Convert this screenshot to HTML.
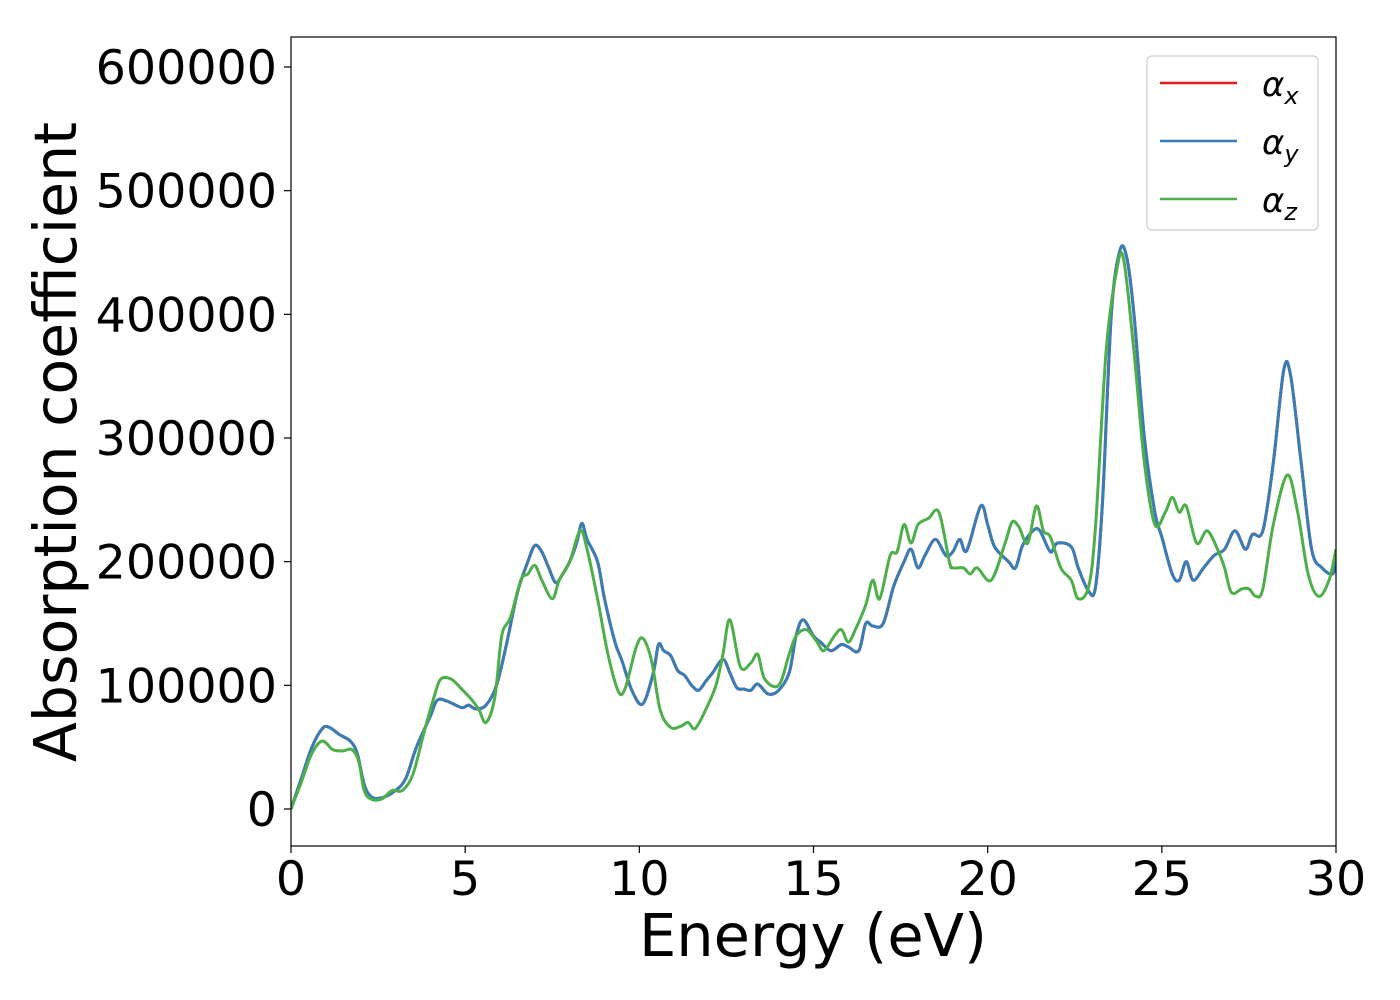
<!DOCTYPE html>
<html><head><meta charset="utf-8"><style>
html,body{margin:0;padding:0;background:#fff;}
svg{display:block;font-family:"DejaVu Sans","Liberation Sans",sans-serif;}
</style></head><body>
<svg id="chart" width="1400" height="1000" viewBox="0 0 1400 1000" xmlns="http://www.w3.org/2000/svg">
<defs><clipPath id="clip"><rect x="291" y="37" width="1045" height="809"/></clipPath></defs>
<rect x="0" y="0" width="1400" height="1000" fill="#fff"/>
<g id="series" clip-path="url(#clip)"></g>
<rect x="291" y="37" width="1045" height="809" fill="none" stroke="#000" stroke-width="1.2"/>
<g id="xticks"></g>
<g id="yticks"></g>
<text x="813" y="956" font-size="59" text-anchor="middle">Energy (eV)</text>
<text transform="translate(76,442) rotate(-90)" font-size="58.5" text-anchor="middle">Absorption coefficient</text>
<g>
<rect x="1147" y="56" width="171" height="174" rx="5" fill="#fff" stroke="#ccc" stroke-width="1.2"/>
<g><line x1="1160" y1="83" x2="1237" y2="83" stroke="#e41a1c" stroke-width="2.5"/><text x="1262" y="96" font-size="34" font-style="italic">α<tspan font-size="24" dy="8">x</tspan></text></g>
<g><line x1="1160" y1="141" x2="1237" y2="141" stroke="#377eb8" stroke-width="2.5"/><text x="1262" y="154" font-size="34" font-style="italic">α<tspan font-size="24" dy="8">y</tspan></text></g>
<g><line x1="1160" y1="199" x2="1237" y2="199" stroke="#4daf4a" stroke-width="2.5"/><text x="1262" y="212" font-size="34" font-style="italic">α<tspan font-size="24" dy="8">z</tspan></text></g>
</g>
</svg>
<script>
const xTicks=[0,5,10,15,20,25,30];
const yTicks=[0,100000,200000,300000,400000,500000,600000];
const energyXY=[0,0.3,0.6,0.9,1.1,1.4,1.7,1.9,2.1,2.3,2.6,3.0,3.3,3.6,4.0,4.2,4.5,4.9,5.1,5.3,5.6,5.9,6.2,6.5,6.8,7.0,7.2,7.4,7.6,7.8,8.0,8.2,8.35,8.5,8.8,9.0,9.3,9.5,9.8,10.1,10.4,10.55,10.7,10.9,11.1,11.3,11.5,11.7,11.9,12.1,12.4,12.6,12.8,13.0,13.2,13.4,13.7,14.0,14.3,14.5,14.7,15.0,15.2,15.5,15.8,16.0,16.3,16.5,16.7,17.0,17.3,17.6,17.8,18.0,18.2,18.5,18.8,19.0,19.2,19.4,19.8,20.0,20.2,20.6,20.8,21.0,21.3,21.5,21.8,22.0,22.4,22.6,22.9,23.1,23.3,23.55,23.8,24.0,24.2,24.5,24.8,25.0,25.3,25.5,25.7,25.9,26.2,26.5,26.8,27.1,27.4,27.6,27.9,28.2,28.5,28.7,29.0,29.3,29.6,29.9,30];
const alphaX=[0,25000,50000,65000,66000,60000,55000,45000,20000,10000,9000,15000,25000,50000,75000,88000,87000,82000,84000,81000,84000,100000,135000,175000,200000,213000,208000,195000,183000,190000,200000,215000,231000,218000,200000,170000,135000,120000,95000,85000,110000,133000,128000,124000,112000,108000,100000,96000,103000,110000,121000,110000,98000,97000,96000,101000,93000,96000,110000,140000,153000,140000,135000,128000,133000,131000,128000,150000,148000,150000,180000,200000,210000,195000,205000,218000,205000,208000,218000,209000,245000,230000,212000,200000,195000,213000,225000,225000,208000,215000,212000,195000,176000,180000,250000,400000,452000,445000,400000,300000,240000,220000,190000,185000,200000,185000,195000,205000,210000,225000,210000,222000,225000,280000,355000,350000,280000,210000,195000,190000,200000];
const alphaY=alphaX.slice();
const energyZ=[0,0.3,0.6,0.9,1.2,1.5,1.75,1.95,2.1,2.3,2.6,2.9,3.2,3.5,3.8,4.1,4.3,4.6,4.9,5.2,5.4,5.6,5.85,6.05,6.3,6.6,6.8,7.0,7.2,7.5,7.7,8.0,8.3,8.5,8.8,9.1,9.4,9.6,9.9,10.1,10.35,10.6,10.9,11.2,11.4,11.6,11.9,12.2,12.4,12.6,12.9,13.2,13.4,13.6,14.0,14.3,14.5,14.8,15.1,15.3,15.6,15.8,16.0,16.2,16.5,16.7,16.9,17.2,17.4,17.6,17.8,18.0,18.3,18.6,18.9,19.0,19.3,19.5,19.7,20.1,20.5,20.7,20.9,21.15,21.4,21.6,21.8,22.1,22.4,22.6,22.9,23.1,23.4,23.7,23.9,24.2,24.5,24.8,25.1,25.3,25.5,25.7,26.0,26.3,26.6,26.8,27.0,27.3,27.5,27.7,27.9,28.2,28.6,28.9,29.2,29.5,29.8,30];
const alphaZ=[0,22000,45000,55000,48000,47000,48000,38000,15000,8000,8000,15000,15000,28000,60000,90000,105000,105000,97000,88000,80000,70000,90000,140000,155000,185000,190000,197000,185000,170000,185000,200000,225000,210000,170000,125000,95000,98000,130000,138000,120000,80000,66000,67000,70000,65000,80000,100000,125000,153000,115000,118000,125000,105000,100000,125000,140000,145000,135000,128000,140000,145000,135000,145000,165000,185000,170000,205000,208000,230000,215000,230000,235000,240000,200000,195000,195000,190000,195000,185000,215000,232000,228000,215000,245000,225000,220000,195000,185000,170000,180000,230000,370000,435000,445000,370000,280000,230000,240000,252000,240000,245000,215000,225000,210000,195000,175000,178000,178000,172000,178000,230000,270000,240000,190000,172000,185000,210000];

const X0=291,X1=1336,Y0=809,Ytop=67;
const sx=v=>X0+(v-0)/30*(X1-X0);
const sy=v=>Y0-(v/600000)*(Y0-Ytop);
const NS='http://www.w3.org/2000/svg';
function smoothPath(xs,ys){
  const p=xs.map((x,i)=>[sx(x),sy(ys[i])]);
  let d='M'+p[0][0].toFixed(2)+','+p[0][1].toFixed(2);
  for(let i=0;i<p.length-1;i++){
    const a=p[Math.max(0,i-1)],b=p[i],c=p[i+1],e=p[Math.min(p.length-1,i+2)];
    const c1=[b[0]+(c[0]-a[0])/6,b[1]+(c[1]-a[1])/6];
    const c2=[c[0]-(e[0]-b[0])/6,c[1]-(e[1]-b[1])/6];
    d+='C'+c1[0].toFixed(2)+','+c1[1].toFixed(2)+' '+c2[0].toFixed(2)+','+c2[1].toFixed(2)+' '+c[0].toFixed(2)+','+c[1].toFixed(2);
  }
  return d;
}
const g=document.getElementById('series');
function addLine(xs,ys,color,name){
  const el=document.createElementNS(NS,'path');
  el.setAttribute('d',smoothPath(xs,ys));
  el.setAttribute('fill','none');
  el.setAttribute('stroke',color);
  el.setAttribute('stroke-width','3');
  el.setAttribute('stroke-linejoin','round');
  
  
  g.appendChild(el);
}
addLine(energyXY,alphaX,'#e41a1c','line-alpha-x');
addLine(energyXY,alphaY,'#377eb8','line-alpha-y');
addLine(energyZ,alphaZ,'#4daf4a','line-alpha-z');

const xg=document.getElementById('xticks');
xTicks.forEach(t=>{
  const l=document.createElementNS(NS,'line');
  l.setAttribute('x1',sx(t));l.setAttribute('x2',sx(t));l.setAttribute('y1',846);l.setAttribute('y2',853);
  l.setAttribute('stroke','#000');l.setAttribute('stroke-width','1.2');
  
  
  xg.appendChild(l);
  const tx=document.createElementNS(NS,'text');
  tx.setAttribute('x',sx(t));tx.setAttribute('y',895);tx.setAttribute('font-size','47.5');tx.setAttribute('text-anchor','middle');
  tx.textContent=t;
  
  
  xg.appendChild(tx);
});
const yg=document.getElementById('yticks');
yTicks.forEach(t=>{
  const l=document.createElementNS(NS,'line');
  l.setAttribute('x1',284);l.setAttribute('x2',291);l.setAttribute('y1',sy(t));l.setAttribute('y2',sy(t));
  l.setAttribute('stroke','#000');l.setAttribute('stroke-width','1.2');
  
  
  yg.appendChild(l);
  const tx=document.createElementNS(NS,'text');
  tx.setAttribute('x',277);tx.setAttribute('y',sy(t)+17);tx.setAttribute('font-size','47.5');tx.setAttribute('text-anchor','end');
  tx.textContent=t;
  
  
  yg.appendChild(tx);
});
</script>
</body></html>
